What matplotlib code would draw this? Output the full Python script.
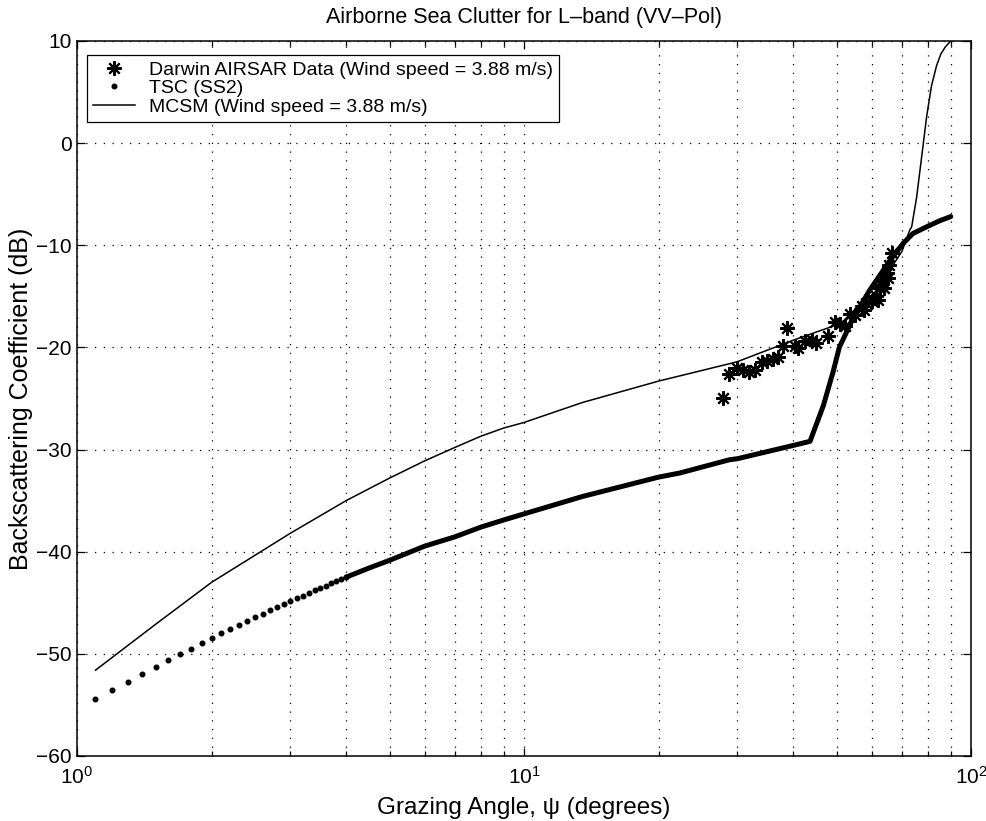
import numpy as np
import matplotlib
matplotlib.use("Agg")
import matplotlib.pyplot as plt
from matplotlib.ticker import LogLocator, NullFormatter, FixedLocator

plt.rcParams['font.family'] = ['Liberation Sans', 'DejaVu Sans']
plt.rcParams['mathtext.fontset'] = 'custom'
plt.rcParams['mathtext.rm'] = 'Liberation Sans'
plt.rcParams['mathtext.it'] = 'Liberation Sans:italic'

# Darwin AIRSAR measurements (grazing angle in deg, sigma0 in dB)
airsar_ang = [27.8, 28.8, 30.0, 30.9, 31.9, 32.8, 34.0, 35.0, 36.1, 36.9,
              38.0, 38.8, 40.3, 41.0, 42.5, 44.0, 44.9, 47.9, 49.5, 50.9,
              52.1, 53.7, 54.9, 56.9, 57.5, 58.3, 59.9, 61.4, 62.0, 62.5,
              63.0, 63.6, 63.8, 64.7, 65.2, 65.6, 66.4]
airsar_db = [-25.0, -22.6, -22.0, -22.2, -22.4, -22.2, -21.4, -21.3, -21.1, -20.9,
             -19.9, -18.1, -19.9, -20.1, -19.4, -19.3, -19.6, -18.9, -17.5, -17.7,
             -17.9, -16.7, -16.8, -16.0, -16.3, -15.7, -15.5, -15.0, -15.4, -14.2,
             -13.9, -13.4, -14.2, -12.7, -13.2, -11.9, -10.8]

# TSC (SS2) model, low angles where the dots are separate
tsc_ang = [1.1, 1.2, 1.3, 1.4, 1.5, 1.6, 1.7, 1.8, 1.9, 2.0,
           2.1, 2.2, 2.3, 2.4, 2.5, 2.6, 2.7, 2.8, 2.9, 3.0,
           3.1, 3.2, 3.3, 3.4, 3.5, 3.6, 3.7, 3.8, 3.9, 4.0]
tsc_db = [-54.47, -53.57, -52.78, -51.99, -51.29, -50.63, -50.03, -49.50, -48.97, -48.44,
          -47.98, -47.58, -47.15, -46.79, -46.39, -46.06, -45.73, -45.40, -45.10, -44.82,
          -44.58, -44.33, -44.06, -43.80, -43.57, -43.34, -43.10, -42.90, -42.70, -42.50]
# TSC at higher angles, where the dots merge into a thick trace
tsc_hi_ang = [4.0, 4.5, 5.0, 6.0, 7.0, 8.0, 9.0, 10.0, 13.5, 20.0, 22.3, 28.8, 30.0,
              40.0, 43.6, 46.7, 49.1, 50.7, 54.5, 59.3, 65.8, 70.5, 74.1, 79.5, 85.1, 90.0]
tsc_hi_db = [-42.5, -41.6, -40.85, -39.45, -38.55, -37.6, -36.9, -36.3, -34.6, -32.7, -32.3,
             -31.0, -30.9, -29.6, -29.2, -25.7, -22.4, -20.0, -17.1, -14.4, -11.5, -9.8,
             -8.85, -8.2, -7.6, -7.2]

# MCSM model
mcsm_ang = [1.1, 1.5, 2.0, 3.0, 4.0, 5.0, 6.0, 7.0, 8.0, 9.0, 10.0, 13.5, 20.0,
            28.8, 30.0, 40.0, 50.0, 56.0, 60.0, 64.7, 70.0, 72.9, 73.6, 75.5,
            77.5, 79.5, 81.5, 83.7, 85.5, 87.5, 90.0]
mcsm_db = [-51.6, -47.1, -43.0, -38.2, -35.0, -32.8, -31.1, -29.8, -28.7, -27.9, -27.35,
           -25.4, -23.3, -21.6, -21.4, -19.3, -17.8, -16.6, -15.0, -12.9, -10.6, -8.5,
           -8.2, -5.3, -1.3, 2.6, 5.6, 7.6, 8.7, 9.4, 10.0]

fig = plt.figure(figsize=(9.87, 8.21), dpi=100)
ax = fig.add_axes([0.078, 0.0792, 0.906, 0.871])

ax.plot(airsar_ang, airsar_db, linestyle='none', marker=(8, 2, 0), markersize=10.5,
        markeredgewidth=1.5, color='black', label='Darwin AIRSAR Data (Wind speed = 3.88 m/s)')
ax.plot(tsc_ang, tsc_db, linestyle='none', marker='o', markersize=3.3,
        color='black', label='TSC (SS2)')
ax.plot(tsc_hi_ang, tsc_hi_db, color='black', linewidth=3.6, solid_capstyle='round')
ax.plot(mcsm_ang, mcsm_db, color='black', linewidth=1.1,
        label='MCSM (Wind speed = 3.88 m/s)')

ax.set_xscale('log')
ax.set_xlim(1, 100)
ax.set_ylim(-60, 10)
ax.yaxis.set_major_locator(FixedLocator(np.arange(-60, 11, 10)))
ax.xaxis.set_minor_locator(LogLocator(base=10, subs=np.arange(2, 10)))
ax.xaxis.set_minor_formatter(NullFormatter())

grid_style = dict(color='black', linestyle=(0, (1, 6)), linewidth=0.9)
ax.grid(True, which='major', axis='both', **grid_style)
ax.grid(True, which='minor', axis='x', **grid_style)

ax.tick_params(which='both', direction='in', top=True, right=True, labelsize=15, width=0.9)
ax.tick_params(which='major', length=6)
ax.tick_params(which='minor', length=3.5)
ax.tick_params(axis='x', pad=7)
ax.tick_params(axis='y', pad=4)
for s in ax.spines.values():
    s.set_linewidth(1.1)

ax.set_title('Airborne Sea Clutter for L\u2013band (VV\u2013Pol)', fontsize=15.5, pad=13)
ax.set_xlabel('Grazing Angle, \u03c8 (degrees)', fontsize=17.5, labelpad=7)
ax.set_ylabel('Backscattering Coefficient (dB)', fontsize=18, labelpad=2)

leg = ax.legend(loc='upper left', bbox_to_anchor=(0.011, 0.98), borderaxespad=0,
                fontsize=14, fancybox=False, framealpha=1, edgecolor='black',
                handlelength=2.2, borderpad=0.3, labelspacing=0.05, handletextpad=0.7)
leg.get_frame().set_linewidth(0.9)

fig.savefig('out.png', dpi=100)
